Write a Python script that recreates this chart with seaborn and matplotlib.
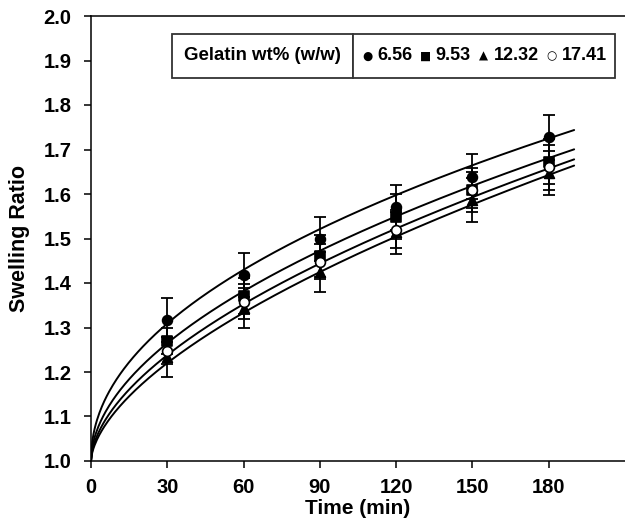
import numpy as np
import pandas as pd
import matplotlib
matplotlib.use("Agg")
import matplotlib.pyplot as plt
import seaborn as sns
from matplotlib.patches import Rectangle

# ---- data ----
time = [30, 60, 90, 120, 150, 180]
series = ["6.56", "9.53", "12.32", "17.41"]
ratio_656 = [1.317, 1.418, 1.499, 1.570, 1.639, 1.727]
ratio_953 = [1.270, 1.371, 1.461, 1.549, 1.609, 1.673]
ratio_1232 = [1.234, 1.343, 1.425, 1.515, 1.587, 1.647]
ratio_1741 = [1.248, 1.358, 1.448, 1.519, 1.609, 1.660]
err_656 = [0.05, 0.05, 0.05, 0.05, 0.05, 0.05]
err_953 = [0.03, 0.04, 0.047, 0.05, 0.04, 0.05]
err_1232 = [0.045, 0.045, 0.045, 0.05, 0.05, 0.05]
err_1741 = [0.03, 0.04, 0.04, 0.04, 0.05, 0.05]
# fitted power-law curves y = 1 + k * t^n (parameters)
fit_k = [0.0612, 0.0441, 0.0288, 0.0346]
fit_n = [0.476, 0.527, 0.598, 0.567]
fit_tmax = 190
x_ticks = [0, 30, 60, 90, 120, 150, 180]
y_ticks = [1.0, 1.1, 1.2, 1.3, 1.4, 1.5, 1.6, 1.7, 1.8, 1.9, 2.0]
legend_title = "Gelatin wt% (w/w)"
legend_symbols = ["\u25CF", "\u25A0", "\u25B2", "\u25CB"]

ratios = [ratio_656, ratio_953, ratio_1232, ratio_1741]
errs = [err_656, err_953, err_1232, err_1741]

df = pd.DataFrame({
    "Time": time * 4,
    "Ratio": sum(ratios, []),
    "Err": sum(errs, []),
    "Gelatin": sum([[s] * len(time) for s in series], []),
})

t_fit = np.linspace(0, fit_tmax, 400)
fit_rows = []
for s, k, n in zip(series, fit_k, fit_n):
    for t in t_fit:
        fit_rows.append((t, 1 + k * t ** n, s))
fit_df = pd.DataFrame(fit_rows, columns=["Time", "Ratio", "Gelatin"])

# ---- style ----
sns.set_style("ticks")
plt.rcParams["font.family"] = ["Liberation Sans", "DejaVu Sans"]
plt.rcParams["font.weight"] = "bold"
plt.rcParams["axes.labelweight"] = "bold"
plt.rcParams["text.color"] = "black"
plt.rcParams["axes.labelcolor"] = "black"
plt.rcParams["xtick.color"] = "black"
plt.rcParams["ytick.color"] = "black"

fig = plt.figure(figsize=(6.25, 5.26), dpi=100)
ax = fig.add_axes([91 / 625, 1 - 461 / 526, 1 - 91 / 625, (461 - 16) / 526])

# fitted curves
sns.lineplot(data=fit_df, x="Time", y="Ratio", units="Gelatin", estimator=None,
             color="black", lw=1.4, ax=ax, legend=False, sort=False)

# error bars
for s, r, e in zip(series, ratios, errs):
    ax.errorbar(time, r, yerr=e, fmt="none", ecolor="black", elinewidth=1.3,
                capsize=4, capthick=1.3, zorder=3)

# markers
markers = {"6.56": "o", "9.53": "s", "12.32": "^", "17.41": "o"}
for s in series:
    sub = df[df["Gelatin"] == s]
    fc = "white" if s == "17.41" else "black"
    sns.scatterplot(data=sub, x="Time", y="Ratio", marker=markers[s], s=50,
                    color=fc, edgecolor="black", linewidth=1.2, ax=ax,
                    legend=False, zorder=4)

ax.set_xlim(0, 210)
ax.set_ylim(1.0, 2.0)
ax.set_xticks(x_ticks)
ax.set_yticks(y_ticks)
ax.set_yticklabels([f"{v:.1f}" for v in y_ticks])
ax.tick_params(axis="both", labelsize=14.5, length=5, width=1.1, color="black",
               labelcolor="black")
ax.tick_params(axis="y", pad=9)
ax.tick_params(axis="x", pad=7)
for lab in ax.get_xticklabels() + ax.get_yticklabels():
    lab.set_fontweight("bold")
ax.set_xlabel("Time (min)", fontsize=15, fontweight="bold")
ax.set_ylabel("Swelling Ratio", fontsize=15.5, fontweight="bold")
ax.xaxis.set_label_coords(0.5, (461 - 508) / 445)
ax.yaxis.set_label_coords((20 - 91) / 534, 0.5)
ax.xaxis.label.set_va("center")
ax.yaxis.label.set_va("center")
ax.spines["right"].set_visible(False)
for sp in ["left", "bottom", "top"]:
    ax.spines[sp].set_linewidth(1.1)
    ax.spines[sp].set_color("black")

# legend boxes
W, H = 625, 526
def fbox(x0, x1, y0, y1):
    return Rectangle((x0 / W, 1 - y1 / H), (x1 - x0) / W, (y1 - y0) / H,
                     transform=fig.transFigure, fill=True, facecolor="white",
                     edgecolor="#333333", lw=1.3, zorder=10)
fig.patches.append(fbox(172, 353, 34, 78))
fig.patches.append(fbox(353, 615, 34, 78))
ly = 1 - 56 / H
fig.text(262 / W, ly, legend_title, ha="center", va="center",
         fontsize=13.4, fontweight="bold", zorder=11)

# sequential layout: fixed-width symbol slot, then label
renderer = fig.canvas.get_renderer()
slot = 9.0
gap_after_sym = 6.0
gap_after_lab = 8.0
pieces = []
x = 0.0
for sym, lab in zip(legend_symbols, series):
    t1 = fig.text(0, ly, sym, ha="center", va="center", fontsize=8.5,
                  family="DejaVu Sans", zorder=11)
    pieces.append((t1, x + slot / 2))
    x += slot + gap_after_sym
    t2 = fig.text(0, ly, lab, ha="left", va="center", fontsize=13,
                  fontweight="bold", zorder=11)
    w2 = t2.get_window_extent(renderer).width
    pieces.append((t2, x))
    x += w2 + gap_after_lab
total = x - gap_after_lab
start = 485 - total / 2
for t, off in pieces:
    t.set_x((start + off) / W)

fig.savefig("out.png", dpi=100)
